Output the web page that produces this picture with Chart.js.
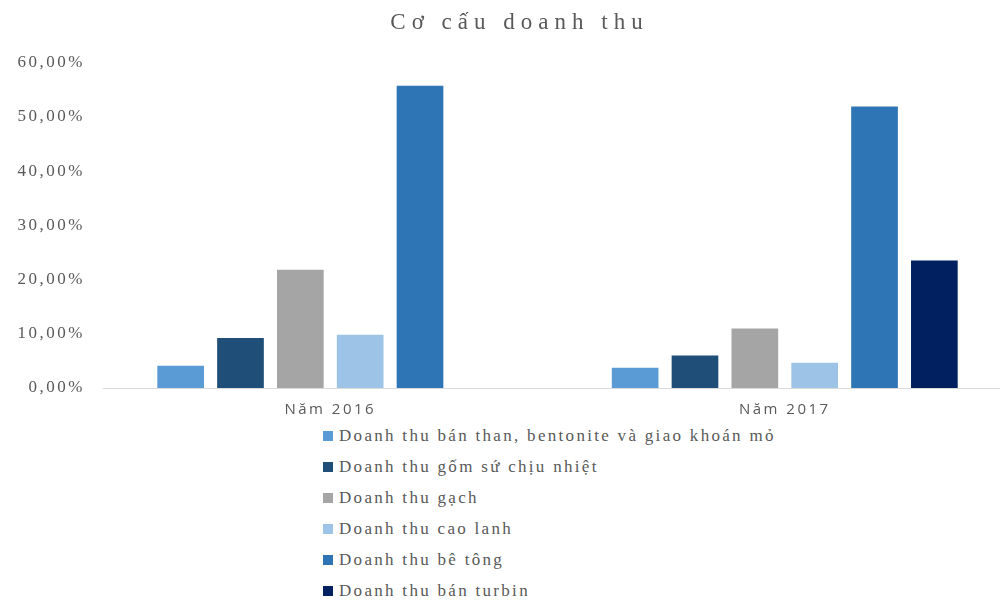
<!DOCTYPE html>
<html>
<head>
<meta charset="utf-8">
<script src="https://cdn.jsdelivr.net/npm/chart.js@4"></script>
<style>
    body { margin: 0; background: #fff; }
    #wrap { position: relative; width: 1000px; height: 604px; overflow: hidden; }
    #box { position: absolute; left: 0; top: 0; width: 1012px; height: 424px; }
    #legend { position: absolute; left: 323px; top: 424px; font-family: "Liberation Serif", serif;
              font-size: 17px; letter-spacing: 2.3px; color: #595959; }
    #legend div { height: 31px; line-height: 24px; white-space: nowrap; }
    #legend span { display: inline-block; width: 10px; height: 10px; margin-right: 6px; vertical-align: 0px; }
</style>
</head>
<body>
<div id="wrap">
    <div id="box"><canvas id="revenue_chart"></canvas></div>
    <div id="legend"></div>
</div>
<script>
const years = ['Năm 2016', 'Năm 2017'];
const seriesNames = [
    'Doanh thu bán than, bentonite và giao khoán mỏ',
    'Doanh thu gốm sứ chịu nhiệt',
    'Doanh thu gạch',
    'Doanh thu cao lanh',
    'Doanh thu bê tông',
    'Doanh thu bán turbin'
];
const coal = [4.1, 3.75];
const ceramic = [9.2, 6.0];
const brick = [21.8, 10.95];
const kaolin = [9.8, 4.65];
const concrete = [55.75, 51.9];
const turbine = [null, 23.5];
const yTicks = [0, 10, 20, 30, 40, 50, 60];
const colors = ['#5B9BD5', '#1F4E79', '#A5A5A5', '#9DC3E6', '#2E75B6', '#002060'];

function prepareChart()
{
    const values = [coal, ceramic, brick, kaolin, concrete, turbine];
    const datasets = seriesNames.map(function (name, i) {
        return {
            label: name,
            data: values[i],
            backgroundColor: colors[i],
            barPercentage: 0.78,
            categoryPercentage: 0.79
        };
    });

    // wide letter spacing like the stretched original; title gets more than the axes
    const spacing = {
        id: 'spacing',
        beforeDraw: function (chart) {
            chart.ctx.letterSpacing = '6px';
            chart.ctx.translate(6, 0);
        },
        beforeDatasetsDraw: function (chart) {
            chart.ctx.translate(-6, 0);
            chart.ctx.letterSpacing = '2.5px';
        },
        afterDraw: function (chart) { chart.ctx.letterSpacing = '0px'; }
    };

    const config = {
        type: 'bar',
        data: { labels: years, datasets: datasets },
        plugins: [spacing],
        options: {
            maintainAspectRatio: false,
            responsive: true,
            animation: false,
            layout: { padding: { left: 15, right: 0, top: 0, bottom: 0 } },
            plugins: {
                legend: { display: false },
                tooltip: { enabled: false },
                title: {
                    display: true,
                    text: 'Cơ cấu doanh thu',
                    color: '#595959',
                    font: { family: 'Liberation Serif', size: 23, weight: 'normal' },
                    padding: { top: 9, bottom: 26 }
                }
            },
            scales: {
                x: {
                    grid: { display: false },
                    border: { color: '#D9D9D9', width: 1, z: 1 },
                    ticks: {
                        z: 1,
                        color: '#595959',
                        font: { family: 'Open Sans', size: 15 },
                        padding: 5
                    }
                },
                y: {
                    min: 0,
                    max: 60,
                    afterBuildTicks: function (axis) {
                        axis.ticks = yTicks.map(function (v) { return { value: v }; });
                    },
                    afterFit: function (axis) { axis.width = 88; },
                    grid: { display: false },
                    border: { display: false },
                    ticks: {
                        z: 1,
                        color: '#595959',
                        font: { family: 'Liberation Serif', size: 17 },
                        padding: 10,
                        callback: function (v) { return v.toFixed(2).replace('.', ',') + '%'; }
                    }
                }
            }
        }
    };

    const chart = new Chart(document.getElementById('revenue_chart'), config);

    const legend = document.getElementById('legend');
    chart.data.datasets.forEach(function (ds) {
        const row = document.createElement('div');
        const sw = document.createElement('span');
        sw.style.background = ds.backgroundColor;
        row.appendChild(sw);
        row.appendChild(document.createTextNode(ds.label));
        legend.appendChild(row);
    });
}

window.addEventListener('load', prepareChart);
</script>
</body>
</html>
